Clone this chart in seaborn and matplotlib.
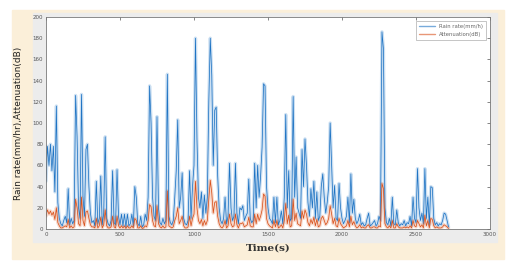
import numpy as np
import pandas as pd
import matplotlib
matplotlib.use("Agg")
import matplotlib.pyplot as plt
import seaborn as sns

# sample every 10 s, 0..2720 s
time_s = np.arange(0, 2730, 10)

rain_rate = [
    45, 78, 60, 80, 55, 78, 35, 116, 25, 10,
    5, 3, 8, 12, 6, 38, 4, 10, 5, 8,
    126, 87, 20, 10, 127, 30, 12, 75, 80, 40,
    15, 6, 8, 3, 45, 5, 10, 50, 4, 15,
    87, 10, 5, 3, 8, 55, 6, 4, 56, 12,
    4, 14, 3, 14, 2, 14, 3, 5, 14, 3,
    40, 30, 5, 3, 12, 2, 4, 14, 8, 30,
    135, 100, 30, 12, 8, 106, 20, 6, 4, 10,
    5, 8, 146, 12, 6, 4, 8, 30, 55, 103,
    20, 30, 53, 10, 5, 4, 8, 55, 10, 40,
    60, 180, 85, 30, 20, 35, 10, 32, 15, 30,
    120, 180, 145, 60, 112, 115, 50, 20, 8, 5,
    10, 30, 5, 12, 62, 20, 8, 12, 62, 15,
    5, 20, 18, 22, 8, 12, 15, 47, 10, 6,
    8, 62, 20, 60, 30, 50, 77, 137, 135, 40,
    20, 10, 8, 5, 30, 6, 30, 4, 8, 17,
    5, 30, 108, 20, 55, 8, 10, 125, 30, 68,
    20, 15, 10, 75, 40, 85, 60, 25, 12, 38,
    20, 45, 10, 35, 8, 12, 40, 52, 30, 15,
    25, 40, 100, 60, 20, 41, 10, 8, 43, 20,
    10, 5, 8, 12, 30, 6, 52, 15, 28, 10,
    5, 8, 14, 4, 6, 3, 4, 10, 15, 3,
    4, 6, 8, 3, 5, 12, 8, 186, 170, 20,
    6, 4, 10, 3, 30, 5, 4, 18, 6, 3,
    5, 4, 8, 3, 6, 5, 12, 3, 30, 10,
    6, 57, 20, 8, 15, 5, 57, 10, 30, 4,
    40, 39, 10, 4, 6, 3, 5, 4, 8, 15,
    14, 8, 2,
]

attenuation = [
    12, 18, 14, 17, 13, 16, 9, 20, 6, 3,
    1, 1, 2, 3, 2, 9, 1, 3, 1, 2,
    28, 20, 5, 3, 30, 8, 3, 16, 17, 10,
    4, 2, 2, 1, 10, 1, 3, 11, 1, 4,
    18, 3, 1, 1, 2, 12, 2, 1, 12, 3,
    1, 3, 1, 3, 0.5, 3, 1, 1, 3, 1,
    10, 8, 1, 1, 3, 0.5, 1, 3, 2, 8,
    23, 21, 8, 3, 2, 22, 5, 2, 1, 3,
    1, 2, 36, 3, 2, 1, 2, 8, 12, 20,
    5, 8, 12, 3, 1, 1, 2, 12, 3, 10,
    14, 45, 20, 8, 5, 9, 3, 8, 4, 8,
    28, 46, 34, 15, 25, 26, 12, 5, 2, 1,
    3, 8, 1, 3, 14, 5, 2, 3, 14, 4,
    1, 5, 5, 6, 2, 3, 4, 11, 3, 2,
    2, 14, 5, 14, 8, 12, 18, 33, 31, 10,
    5, 3, 2, 1, 8, 2, 8, 1, 2, 4,
    1, 8, 24, 5, 13, 2, 3, 28, 8, 15,
    5, 4, 3, 17, 10, 18, 14, 6, 3, 9,
    5, 11, 3, 9, 2, 3, 10, 12, 8, 4,
    6, 10, 22, 14, 5, 10, 3, 2, 10, 5,
    3, 1, 2, 3, 8, 2, 12, 4, 7, 3,
    1, 2, 4, 1, 2, 1, 1, 3, 4, 1,
    1, 2, 2, 1, 1, 3, 2, 43, 38, 5,
    2, 1, 3, 1, 8, 1, 1, 5, 2, 1,
    1, 1, 2, 1, 2, 1, 3, 1, 8, 3,
    2, 8, 5, 2, 4, 1, 13, 3, 8, 1,
    10, 9, 3, 1, 2, 1, 1, 1, 2, 4,
    3, 2, 0.5,
]

series_names = ["Rain rate(mm/h)", "Attenuation(dB)"]
colors = {"Rain rate(mm/h)": "#1f74c4", "Attenuation(dB)": "#d9521c"}

df = pd.DataFrame({"time": time_s, series_names[0]: rain_rate, series_names[1]: attenuation})
df_long = df.melt(id_vars="time", var_name="series", value_name="value")

sns.set_style("white")
fig = plt.figure(figsize=(5.16, 2.70), dpi=100)
fig.patch.set_facecolor("white")

# beige frame and MATLAB grey figure panel
fig.add_artist(plt.Rectangle((12 / 516, 1 - 259 / 270), 492 / 516, 249 / 270,
                             transform=fig.transFigure, color="#fbefd9", zorder=0))
fig.add_artist(plt.Rectangle((33 / 516, 1 - 242 / 270), 464 / 516, 229 / 270,
                             transform=fig.transFigure, color="#ececec", zorder=0))

ax = fig.add_axes([46 / 516, 1 - 229 / 270, 444 / 516, 212 / 270])
ax.set_facecolor("white")

# soft halo then crisp line, to mimic the blurred screenshot
sns.lineplot(data=df_long, x="time", y="value", hue="series", palette=colors,
             estimator=None, linewidth=2.4, alpha=0.22, legend=False, ax=ax)
sns.lineplot(data=df_long, x="time", y="value", hue="series", palette=colors,
             estimator=None, linewidth=0.55, ax=ax)

ax.set_xlim(0, 3000)
ax.set_ylim(0, 200)
ax.set_xticks(range(0, 3001, 500))
ax.set_yticks(range(0, 201, 20))
ax.tick_params(direction="in", length=2.5, width=0.5, labelsize=4, colors="#555555",
               top=True, right=True, pad=2)
for s in ax.spines.values():
    s.set_color("#777777")
    s.set_linewidth(0.6)

ax.set_xlabel("Time(s)", fontfamily="DejaVu Serif", fontweight="bold", fontsize=7.5,
              color="#333333", labelpad=5)
ax.set_ylabel("Rain rate(mm/hr),Attenuation(dB)", fontsize=6.5, color="#222222", labelpad=7)

leg = ax.legend(loc="upper right", fontsize=3.8, frameon=True, fancybox=False,
                borderpad=0.5, handlelength=3, labelspacing=0.6, borderaxespad=0.8)
leg.get_frame().set_edgecolor("#999999")
leg.get_frame().set_linewidth(0.5)
for line in leg.get_lines():
    line.set_linewidth(1.0)
    line.set_alpha(0.6)
for t in leg.get_texts():
    t.set_color("#666666")

fig.savefig("out.png", dpi=100)
